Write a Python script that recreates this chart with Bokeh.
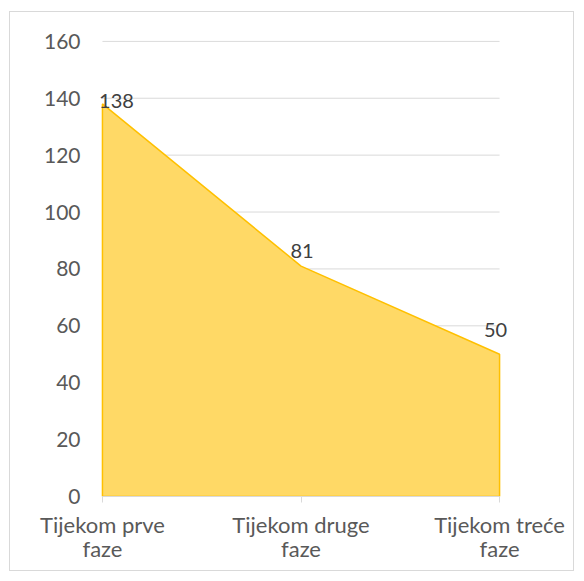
from bokeh.plotting import figure
from bokeh.models import FixedTicker, Range1d, Label
from bokeh.embed import file_html
from bokeh.resources import INLINE

categories = ["Tijekom prve\nfaze", "Tijekom druge\nfaze", "Tijekom treće\nfaze"]
values = [138, 81, 50]
y_ticks = [0, 20, 40, 60, 80, 100, 120, 140, 160]

FONT = "Lato"
TXT = "#595959"

xs = list(range(len(categories)))
x_lo, x_hi = xs[0], xs[-1]

p = figure(width=565, height=560, output_backend="svg", toolbar_location=None,
           x_range=Range1d(x_lo - 0.03, x_hi + 0.05), y_range=Range1d(0, 160.3),
           min_border_left=86, min_border_right=66, min_border_top=28, min_border_bottom=76)
p.styles = {"margin-left": "9px", "margin-top": "11px", "border": "1px solid #D9D9D9"}
p.outline_line_color = None
p.background_fill_color = "white"
p.xgrid.grid_line_color = None
p.ygrid.grid_line_color = None

# horizontal gridlines spanning the category extent
gy = y_ticks[1:]
p.segment(x0=[x_lo] * len(gy), x1=[x_hi] * len(gy), y0=gy, y1=gy,
          line_color="#D9D9D9", line_width=1)

# area polygon
px = [x_lo] + xs + [x_hi]
py = [0] + values + [0]
p.patch(px, py, fill_color="#FFD966", line_color="#FFC000", line_width=1.5)

# data labels (label placement offsets in px)
label_dx = [14, 1, -4]
label_dy = [3, 15, 24]
for xi, v, dx, dy in zip(xs, values, label_dx, label_dy):
    p.add_layout(Label(x=xi, y=v, text=str(v), x_offset=dx, y_offset=dy,
                       text_align="center", text_baseline="middle", text_font=FONT,
                       text_font_size="20px", text_color="#404040"))

# axes
p.xaxis.ticker = FixedTicker(ticks=xs)
p.xaxis.bounds = (x_lo, x_hi)
p.xaxis.major_label_overrides = {i: c for i, c in enumerate(categories)}
p.xaxis.axis_line_color = "#D9D9D9"
p.xaxis.major_tick_line_color = "#D9D9D9"
p.xaxis.major_tick_out = 6
p.xaxis.major_tick_in = 0
p.xaxis.minor_tick_line_color = None
p.xaxis.major_label_standoff = 8
p.xaxis.major_label_text_font = FONT
p.xaxis.major_label_text_font_size = "22px"
p.xaxis.major_label_text_line_height = 0.9
p.xaxis.major_label_text_color = TXT

p.yaxis.ticker = FixedTicker(ticks=y_ticks)
p.yaxis.axis_line_color = None
p.yaxis.major_tick_line_color = None
p.yaxis.minor_tick_line_color = None
p.yaxis.major_label_standoff = 10
p.yaxis.major_label_text_font = FONT
p.yaxis.major_label_text_font_size = "21px"
p.yaxis.major_label_text_color = TXT

open("out.html", "w").write(file_html(p, INLINE))
